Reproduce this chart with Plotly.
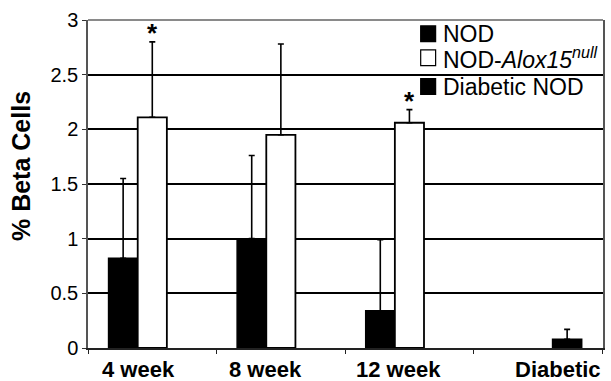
import plotly.graph_objects as go

# Groups on the x axis
categories = ["4 week", "8 week", "12 week", "Diabetic"]

# Series names
series_names = ["NOD", "NOD-<i>Alox15</i><sup><i>null</i></sup>", "Diabetic NOD"]

# Mean % beta cells per group (None where the series has no bar)
nod_values = [0.82, 1.00, 0.34, None]
alox_values = [2.11, 1.95, 2.06, None]
diabetic_values = [None, None, None, 0.08]

# Upper error (SEM) added to each mean
nod_errors = [0.73, 0.76, 0.65, 0]
alox_errors = [0.69, 0.83, 0.12, 0]
diabetic_errors = [0, 0, 0, 0.09]

# Groups marked significant
significant = ["4 week", "12 week"]

y_ticks = [0, 0.5, 1, 1.5, 2, 2.5, 3]
y_tick_labels = ["0", "0.5", "1", "1.5", "2", "2.5", "3"]

# Horizontal nudges (px) of the category labels under the axis
label_shifts = [-14, -15, -11, 20]

FONT = "Liberation Sans, Arial, sans-serif"

fig = go.Figure()

err_style = dict(type="data", symmetric=False, color="black", thickness=1.6, width=3)

fig.add_trace(go.Bar(
    x=categories, y=nod_values, name=series_names[0],
    marker=dict(color="black", line=dict(color="black", width=1.5)),
    error_y=dict(array=nod_errors, arrayminus=[0] * 4, **err_style),
))
fig.add_trace(go.Bar(
    x=categories, y=alox_values, name=series_names[1],
    marker=dict(color="white", line=dict(color="black", width=1.8)),
    error_y=dict(array=alox_errors, arrayminus=[0] * 4, **err_style),
))
fig.add_trace(go.Bar(
    x=categories, y=diabetic_values, name=series_names[2],
    marker=dict(color="black", line=dict(color="black", width=1.5)),
    error_y=dict(array=diabetic_errors, arrayminus=[0] * 4, **err_style),
))

annotations = []

# Significance stars above the knockout bars (middle bar = category centre)
for cat in significant:
    i = categories.index(cat)
    annotations.append(dict(
        x=cat, y=alox_values[i] + alox_errors[i], xref="x", yref="y",
        text="<b>*</b>", showarrow=False, yanchor="bottom", yshift=-8,
        font=dict(family=FONT, size=26, color="black"),
    ))

# Bold category labels
for cat, dx in zip(categories, label_shifts):
    annotations.append(dict(
        x=cat, y=0, xref="x", yref="paper", text=f"<b>{cat}</b>", showarrow=False,
        yanchor="top", yshift=-7, xshift=dx,
        font=dict(family=FONT, size=22, color="black"),
    ))

# Y axis title
annotations.append(dict(
    x=-0.13, y=0.555, xref="paper", yref="paper", text="<b>% Beta Cells</b>",
    showarrow=False, textangle=-90, xanchor="center", yanchor="middle",
    font=dict(family=FONT, size=25, color="black"),
))

# Legend drawn in the upper right of the plot area
legend_rows = [(series_names[0], "black", 0.958), (series_names[1], "white", 0.885),
               (series_names[2], "black", 0.797)]
shapes = []
for name, fill, yc in legend_rows:
    shapes.append(dict(
        type="rect", xref="paper", yref="paper",
        x0=0.646, x1=0.675, y0=yc - 0.024, y1=yc + 0.024,
        fillcolor=fill, line=dict(color="black", width=1.2), layer="above",
    ))
    annotations.append(dict(
        x=0.686, y=yc, xref="paper", yref="paper", text=name, showarrow=False,
        xanchor="left", yanchor="middle",
        font=dict(family=FONT, size=23, color="black"),
    ))

# Light frame on top
shapes.append(dict(type="line", xref="paper", yref="paper", x0=0, x1=1, y0=1, y1=1,
                   line=dict(color="#8a8a8a", width=2), layer="above"))

fig.update_layout(
    width=611, height=381,
    margin=dict(l=88, r=6, t=20, b=33),
    paper_bgcolor="white", plot_bgcolor="white",
    barmode="group", bargap=0.32, bargroupgap=0,
    showlegend=False,
    annotations=annotations, shapes=shapes,
    font=dict(family=FONT, color="black"),
    xaxis=dict(
        showline=True, linecolor="#222", linewidth=1.5,
        ticks="outside", tickson="boundaries", ticklen=4, tickcolor="#222",
        showticklabels=False, showgrid=False,
    ),
    yaxis=dict(
        range=[0, 3], tickvals=y_ticks, ticktext=y_tick_labels,
        showline=True, linecolor="#555", linewidth=1.5, mirror=True,
        ticks="outside", ticklen=4, tickcolor="#333",
        tickfont=dict(family=FONT, size=20, color="black"),
        showgrid=True, gridcolor="black", gridwidth=1.5,
        zeroline=False,
    ),
)

fig.write_html("out.html")
